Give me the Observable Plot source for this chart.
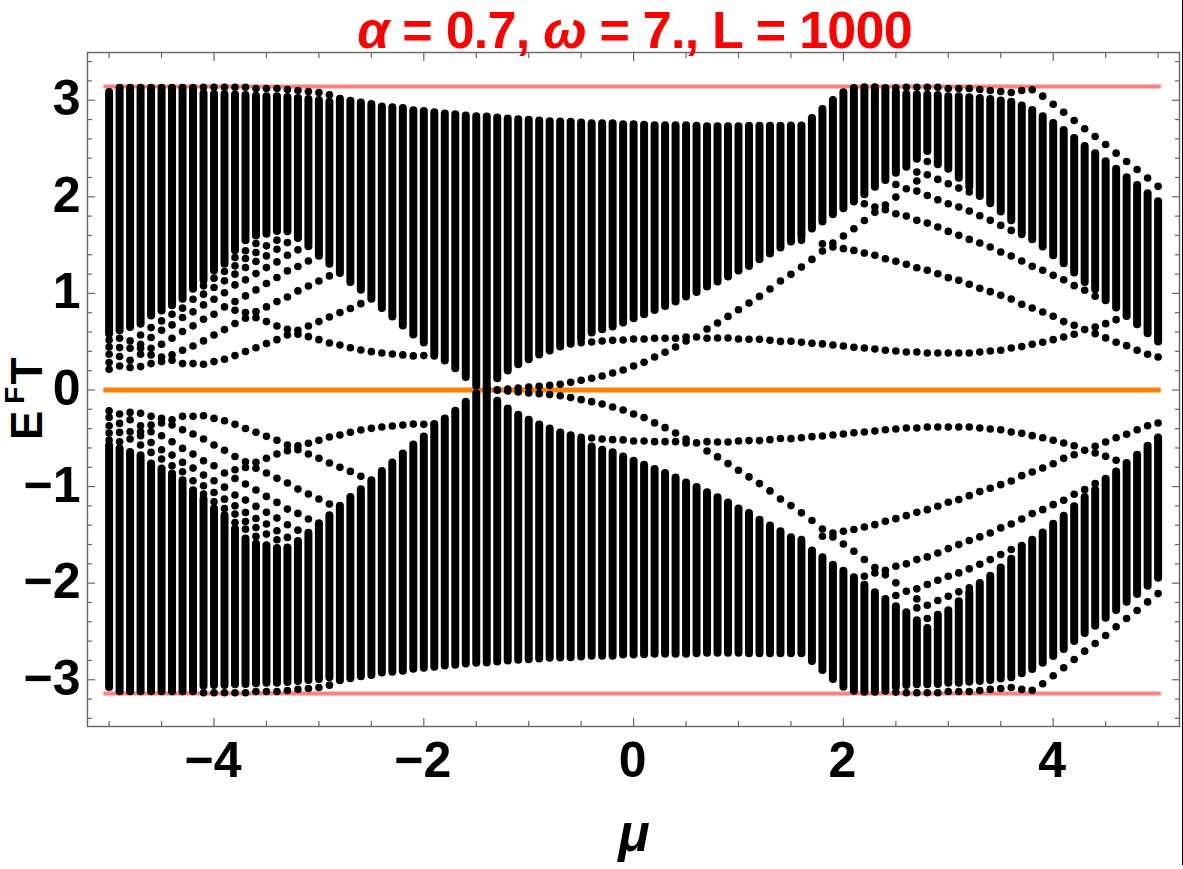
<!DOCTYPE html>
<html>
<head>
<meta charset="utf-8">
<script src="https://cdn.jsdelivr.net/npm/d3@7"></script>
<script src="https://cdn.jsdelivr.net/npm/@observablehq/plot@0.6"></script>
<style>
html,body{margin:0;padding:0;background:#fff;overflow:hidden;width:1183px;height:869px;position:relative;font-family:"Liberation Sans",Arial,sans-serif;}
#title{position:absolute;left:86px;top:0;width:1097px;text-align:center;color:#f00;font-weight:bold;font-size:52px;line-height:normal;letter-spacing:-0.75px;white-space:nowrap;z-index:2;}
#chart{position:absolute;left:0;top:50px;}
#chart svg{display:block;}
#ylab{position:absolute;left:5px;top:440px;transform:rotate(-90deg);transform-origin:0 0;font-weight:bold;font-size:44px;line-height:44px;white-space:nowrap;color:#000;}
#ylab span{font-size:28px;position:relative;top:-18px;margin:0 2px 0 7px;}
#xlab{position:absolute;left:534px;width:200px;top:808px;text-align:center;font-weight:bold;font-style:italic;font-size:52px;line-height:50px;color:#000;}
#edge{position:absolute;left:1181.5px;top:0;width:1.2px;height:865px;background:#000;}
</style>
</head>
<body>
<div id="title"><i>α</i> = 0.7, <i>ω</i> = 7., L = 1000</div>
<div id="chart"></div>
<div id="ylab">E<span>F</span>T</div>
<div id="xlab">μ</div>
<div id="edge"></div>
<script>
const mu = [
 -5,-4.9,-4.8,-4.7,-4.6,-4.5,-4.4,-4.3,-4.2,-4.1,
 -4,-3.9,-3.8,-3.7,-3.6,-3.5,-3.4,-3.3,-3.2,-3.1,
 -3,-2.9,-2.8,-2.7,-2.6,-2.5,-2.4,-2.3,-2.2,-2.1,
 -2,-1.9,-1.8,-1.7,-1.6,-1.5,-1.4,-1.3,-1.2,-1.1,
 -1,-0.9,-0.8,-0.7,-0.6,-0.5,-0.4,-0.3,-0.2,-0.1,
 0,0.1,0.2,0.3,0.4,0.5,0.6,0.7,0.8,0.9,
 1,1.1,1.2,1.3,1.4,1.5,1.6,1.7,1.8,1.9,
 2,2.1,2.2,2.3,2.4,2.5,2.6,2.7,2.8,2.9,
 3,3.1,3.2,3.3,3.4,3.5,3.6,3.7,3.8,3.9,
 4,4.1,4.2,4.3,4.4,4.5,4.6,4.7,4.8,4.9,5];

const bandHigh = [
 3.08,3.125,3.125,3.125,3.125,3.125,3.125,3.125,3.125,3.067,
 3.06,3.06,3.053,3.049,3.042,3.036,3.036,3.029,3.018,3.008,
 2.998,2.98,3.01,2.99,2.97,2.956,2.93,2.923,2.913,2.892,
 2.882,2.871,2.857,2.85,2.837,2.83,2.826,2.816,2.806,2.799,
 2.792,2.785,2.778,2.775,2.771,2.764,2.756,2.756,2.756,2.745,
 2.745,2.742,2.735,2.735,2.735,2.735,2.731,2.725,2.725,2.725,
 2.725,2.731,2.731,2.731,2.731,2.732,2.732,2.811,2.904,2.998,
 3.077,3.12,3.13,3.13,3.12,3.077,3.06,3.053,3.053,3.049,
 3.036,3.036,3.025,3.018,3.008,2.991,2.98,2.939,2.894,2.829,
 2.76,2.687,2.604,2.522,2.446,2.363,2.284,2.198,2.118,2.032,1.949];

const bandLow = [
 0.577,0.612,0.646,0.681,0.767,0.819,0.871,0.94,1.043,1.13,
 1.233,1.303,1.441,1.544,1.595,1.613,1.64,1.637,1.568,1.482,
 1.385,1.302,1.205,1.112,1.033,0.939,0.843,0.756,0.663,0.57,
 0.487,0.359,0.3,0.221,0.128,0.038,0,0.117,0.197,0.262,
 0.314,0.362,0.404,0.445,0.473,0.53,0.59,0.624,0.651,0.693,
 0.738,0.779,0.824,0.865,0.91,0.962,1.01,1.065,1.117,1.169,
 1.231,1.279,1.348,1.407,1.469,1.531,1.58,1.666,1.738,1.814,
 1.876,1.945,2.021,2.1,2.169,2.245,2.307,2.39,2.469,2.331,
 2.286,2.193,2.1,2.004,1.928,1.842,1.752,1.624,1.555,1.48,
 1.39,1.307,1.21,1.114,1.038,0.924,0.848,0.762,0.676,0.583,0.497];

const isolated = [
 [0.518,0.446,0.37,0.284,0.215],
 [0.536,0.439,0.346,0.249],
 [0.508,0.432,0.308,0.232],
 [0.57,0.474,0.432,0.37,0.242],
 [0.646,0.543,0.432,0.363,0.273],
 [0.715,0.619,0.474,0.342,0.294],
 [0.784,0.674,0.536,0.363,0.308],
 [0.847,0.75,0.605,0.411,0.273],
 [0.94,0.809,0.664,0.456,0.273],
 [3.135,1.078,0.992,0.881,0.733,0.508,0.266],
 [3.135,1.158,1.061,0.94,0.784,0.57,0.294],
 [3.135,1.227,1.13,1.006,0.86,0.625,0.318],
 [3.135,1.372,1.285,1.199,1.088,0.916,0.826,0.688,0.356],
 [3.135,1.441,1.361,1.268,1.14,0.974,0.802,0.743,0.398],
 [3.121,1.516,1.423,1.33,1.205,1.036,0.811,0.749,0.438],
 [3.121,1.492,1.388,1.267,1.102,0.86,0.708,0.48],
 [3.121,1.551,1.457,1.326,1.164,0.915,0.663,0.521],
 [3.111,1.526,1.395,1.233,0.963,0.628,0.57],
 [3.1,1.451,1.278,1.026,0.618,0.577],
 [3.09,1.336,1.077,0.663,0.552],
 [3.08,1.129,0.708,0.521],
 [3.056,1.181,0.756,0.487],
 [0.801,0.466],
 [0.843,0.438],
 [0.894,0.414],
 [0.397],
 [0.383],
 [0.373],
 [0.363],
 [0.353],
 [0.356],
 [0.353],
 [],[],[],[],[],
 [0.003],[0.01],[0.02],[0.031],[0.038],[0.048],[0.059],[0.079],
 [0.1,0.49],
 [0.121,0.497],
 [0.145,0.507],
 [0.176,0.514],
 [0.207,0.517],
 [0.248,0.528],
 [0.286,0.528],
 [0.341,0.535],
 [0.39,0.535],
 [0.445,0.535],
 [0.507,0.548],
 [0.548],
 [0.631,0.535],
 [0.693,0.538],
 [0.762,0.538],
 [0.831,0.528],
 [0.9,0.524],
 [0.969,0.524],
 [1.045,0.514],
 [1.128,0.503],
 [1.197,0.504],
 [1.272,0.494,1.549],
 [1.352,0.483],
 [1.439,1.514,0.477],
 [1.521,1.48,0.466],
 [1.463,1.594,0.456],
 [1.445,1.67,0.442],
 [1.418,1.755,1.928,0.435],
 [1.394,1.839,1.894,0.425],
 [1.359,1.866,1.914,0.411],
 [3.128,1.332,1.825,1.997,2.128,0.404],
 [3.135,1.301,1.8,2.083,0.394],
 [3.135,1.266,1.756,2.059,2.163,2.256,0.394],
 [3.135,1.239,1.728,2.014,2.228,2.366,0.383],
 [3.135,1.204,1.687,1.97,2.18,0.383],
 [3.121,1.163,1.642,1.928,2.135,0.383],
 [3.121,1.135,1.601,1.894,2.09,0.383],
 [3.121,1.094,1.559,1.852,2.049,0.383],
 [3.111,1.052,1.521,1.804,0.394],
 [3.1,1.018,1.48,1.756,0.404],
 [3.09,0.98,1.428,1.704,0.411],
 [3.08,0.942,1.387,1.652,0.435],
 [3.1,0.887,1.335,1.611,0.449],
 [3.108,0.849,1.28,0.473],
 [3.042,0.808,1.239,0.494],
 [2.959,0.763,1.187,0.521],
 [2.876,0.708,1.142,0.549],
 [2.79,0.67,1.08,0.577],
 [2.704,0.625,1.032],
 [2.625,0.652,0.583,0.97],
 [2.542,0.687,0.539],
 [2.452,0.728,0.494],
 [2.366,0.459],
 [2.283,0.411],
 [2.194,0.37],
 [2.108,0.342]
];

const piLevels = [-3.14159, 3.14159];
const fermiLevel = [0];
const lineSpan = [-5.05, 5.03];
const xMajor = [-4,-2,0,2,4];
const xMinor = [-5,-4.5,-3.5,-3,-2.5,-1.5,-1,-0.5,0.5,1,1.5,2.5,3,3.5,4.5,5];
const yMajor = [-3,-2,-1,0,1,2,3];
const yMinor = [-3.4,-3.2,-2.8,-2.6,-2.4,-2.2,-1.8,-1.6,-1.4,-1.2,-0.8,-0.6,-0.4,-0.2,0.2,0.4,0.6,0.8,1.2,1.4,1.6,1.8,2.2,2.4,2.6,2.8,3.2,3.4];

const bands = mu.flatMap((m,i)=>[
  {mu:m, lo:bandLow[i], hi:bandHigh[i]},
  {mu:m, lo:-bandHigh[i], hi:-bandLow[i]}
]);
const dots = isolated.flatMap((vals,i)=>vals.flatMap(e=>[{mu:mu[i],e},{mu:mu[i],e:-e}]));
const fmt = d => d<0 ? "\u2212"+(-d) : String(d);
const frameColor = "#666";
const tickOpts = {fill:"none", stroke:frameColor, strokeWidth:1.2, label:null};
const labelOpts = {tickSize:0, fontSize:50, fontWeight:"bold", fill:"#000", tickFormat:fmt, label:null};

const plot = Plot.plot({
  width:1183, height:819,
  marginTop:2, marginBottom:143, marginLeft:87, marginRight:4,
  style:{fontFamily:'"Liberation Sans",Arial,sans-serif',background:"#fff",color:"#000"},
  x:{domain:[-5.206,5.204]},
  y:{domain:[-3.484,3.494]},
  marks:[
    Plot.frame({stroke:frameColor,strokeWidth:1.4}),
    Plot.axisX(xMajor,{...tickOpts,anchor:"bottom",tickSize:-8}),
    Plot.axisX(xMinor,{...tickOpts,anchor:"bottom",tickSize:-5}),
    Plot.axisX(xMajor,{...tickOpts,anchor:"top",tickSize:-8}),
    Plot.axisX(xMinor,{...tickOpts,anchor:"top",tickSize:-5}),
    Plot.axisY(yMajor,{...tickOpts,anchor:"left",tickSize:-8}),
    Plot.axisY(yMinor,{...tickOpts,anchor:"left",tickSize:-5}),
    Plot.axisY(yMajor,{...tickOpts,anchor:"right",tickSize:-8}),
    Plot.axisY(yMinor,{...tickOpts,anchor:"right",tickSize:-5}),
    Plot.axisX(xMajor,{...labelOpts,anchor:"bottom",tickPadding:15,dx:-1}),
    Plot.axisY(yMajor,{...labelOpts,anchor:"left",tickPadding:7,dy:-1}),
    Plot.ruleY(piLevels,{x1:lineSpan[0],x2:lineSpan[1],stroke:"#ff8080",strokeWidth:4}),
    Plot.ruleY(fermiLevel,{x1:lineSpan[0],x2:lineSpan[1],stroke:"#ff8000",strokeWidth:5}),
    Plot.ruleX(bands,{x:"mu",y1:"lo",y2:"hi",stroke:"#000",strokeWidth:8,strokeLinecap:"round"}),
    Plot.dot(dots,{x:"mu",y:"e",r:3.8,fill:"#000",stroke:"none"})
  ]
});
document.getElementById("chart").appendChild(plot);
</script>
</body>
</html>
